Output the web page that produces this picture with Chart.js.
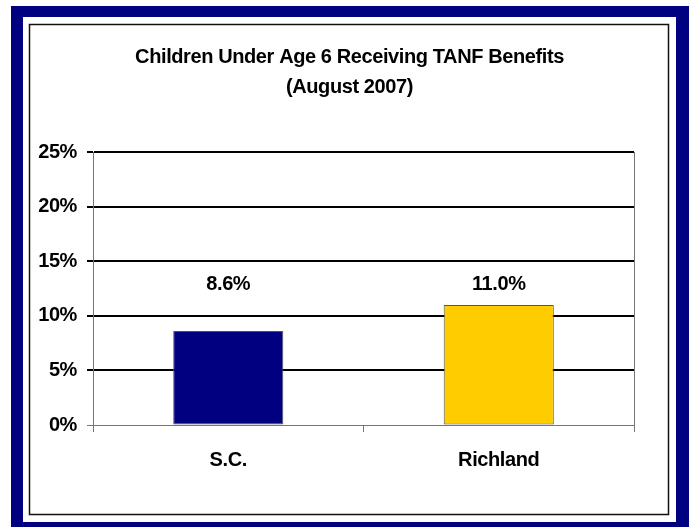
<!DOCTYPE html>
<html>
<head>
<meta charset="utf-8">
<script src="https://cdn.jsdelivr.net/npm/chart.js@4.4.0/dist/chart.umd.min.js"></script>
<style>
  html, body { margin: 0; padding: 0; background: #fff; }
  canvas { display: block; }
</style>
</head>
<body>
<canvas id="tanf-chart" width="689" height="527"></canvas>
<script>
// data
const places = ['S.C.', 'Richland'];
const shareUnder6 = [8.6, 11.0];
const barColors = ['#000080', '#FFCC00'];
const titleLines = ['Children Under Age 6 Receiving TANF Benefits', '(August 2007)'];
const labelLevel = 12.9; // value labels sit on one line above both bars

const FONT = '"Liberation Sans", Arial, Helvetica, sans-serif';

// navy frame + thin inner box behind the chart
const framePlugin = {
    id: 'frame',
    beforeUpdate(chart) {
        chart.ctx.letterSpacing = '-0.4px';
    },
    beforeDraw(chart) {
        const ctx = chart.ctx;
        ctx.save();
        ctx.fillStyle = '#fff';
        ctx.fillRect(0, 0, chart.width, chart.height);
        ctx.fillStyle = '#000080';
        ctx.fillRect(11, 6, chart.width - 11, chart.height - 6);
        ctx.fillStyle = '#fff';
        ctx.fillRect(23, 17, 653, 505);
        ctx.strokeStyle = '#111';
        ctx.lineWidth = 1.5;
        ctx.strokeRect(29.5, 24.5, 639, 490);
        ctx.restore();
        ctx.letterSpacing = '-0.4px';
    }
};

const valueLabels = {
    id: 'valueLabels',
    afterDatasetsDraw(chart) {
        const ctx = chart.ctx;
        const y = chart.scales.y.getPixelForValue(labelLevel);
        const meta = chart.getDatasetMeta(0);
        ctx.save();
        ctx.font = 'bold 20px ' + FONT;
        ctx.fillStyle = '#000';
        ctx.textAlign = 'center';
        ctx.textBaseline = 'middle';
        meta.data.forEach((bar, i) => {
            ctx.fillText(shareUnder6[i].toFixed(1) + '%', bar.x, y);
        });
        ctx.restore();
    }
};

new Chart(document.getElementById('tanf-chart').getContext('2d'), {
    type: 'bar',
    data: {
        labels: places,
        datasets: [{
            data: shareUnder6,
            backgroundColor: barColors,
            borderColor: '#555',
            borderWidth: 1,
            borderSkipped: false,
            categoryPercentage: 1,
            barPercentage: 0.407
        }]
    },
    options: {
        responsive: false,
        animation: false,
        devicePixelRatio: 1,
        layout: { padding: { left: 10, right: 0, top: 0, bottom: 0 } },
        plugins: {
            legend: { display: false },
            tooltip: { enabled: false },
            title: {
                display: true,
                text: titleLines,
                color: '#000',
                font: { family: FONT, size: 20, weight: 'bold', lineHeight: '30px' },
                padding: { top: 42, bottom: 50 }
            }
        },
        scales: {
            x: {
                grid: {
                    drawOnChartArea: false,
                    color: '#777',
                    tickLength: 7,
                    offset: true
                },
                border: { color: '#777', width: 1 },
                ticks: {
                    color: '#000',
                    padding: 16,
                    font: { family: FONT, size: 20, weight: 'bold' }
                },
                afterFit(scale) { scale.height = 102; }
            },
            y: {
                min: 0,
                max: 25,
                grid: {
                    color: c => c.tick && c.tick.value === 0 ? '#777' : '#000',
                    lineWidth: c => c.tick && c.tick.value === 0 ? 1 : 2,
                    tickLength: 6
                },
                border: { color: '#777', width: 1 },
                ticks: {
                    stepSize: 5,
                    color: '#000',
                    padding: 10,
                    font: { family: FONT, size: 20, weight: 'bold' },
                    callback: v => v + '%'
                },
                afterFit(scale) { scale.width = 83; }
            },
            // empty right axis: only gives the plot its right edge line
            yRight: {
                position: 'right',
                min: 0,
                max: 25,
                grid: { display: false },
                ticks: { display: false },
                border: { color: '#777', width: 1 },
                afterFit(scale) { scale.width = 55; }
            }
        }
    },
    plugins: [framePlugin, valueLabels]
});
</script>
</body>
</html>
